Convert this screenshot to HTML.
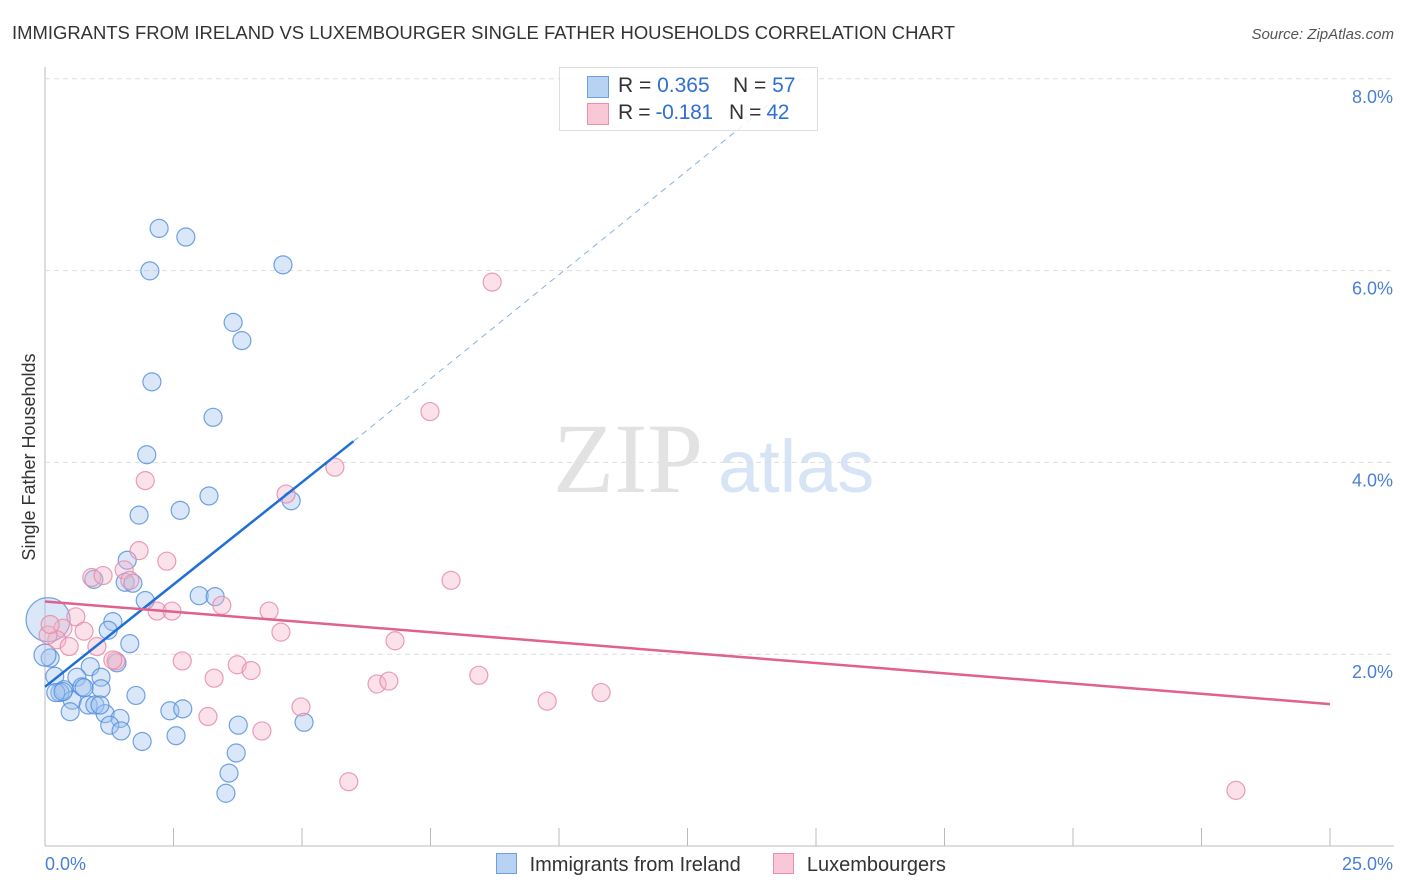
<!DOCTYPE html>
<html><head><meta charset="utf-8"><style>
body{margin:0;background:#fff;font-family:"Liberation Sans",sans-serif;}
#wrap{position:relative;width:1406px;height:892px;overflow:hidden;}
</style></head><body>
<div id="wrap">
<svg id="svg" width="1406" height="892" xmlns="http://www.w3.org/2000/svg">
<text x="12" y="39" font-size="18" fill="#333" textLength="943" lengthAdjust="spacingAndGlyphs">IMMIGRANTS FROM IRELAND VS LUXEMBOURGER SINGLE FATHER HOUSEHOLDS CORRELATION CHART</text>
<text x="1394" y="39" font-size="15" fill="#555" font-style="italic" text-anchor="end">Source: ZipAtlas.com</text>
<text x="35" y="457" font-size="18" fill="#333" text-anchor="middle" transform="rotate(-90 35 457)">Single Father Households</text>
<text x="553" y="492" font-size="100" fill="#e2e2e2" font-family="Liberation Serif,serif">ZIP</text>
<text x="718" y="492" font-size="74" fill="#d6e4f6">atlas</text>
<g id="grid"></g><g id="marks"></g>
</svg>
</div>
<script>
const xTicks=[0,2.5,5,7.5,10,12.5,15,17.5,20,22.5,25];
const yTicks=[2,4,6,8];
const yTickLabels=["2.0%","4.0%","6.0%","8.0%"];
const blueX=[2.22,2.74,2.04,4.63,3.66,3.83,2.08,3.27,1.98,3.19,2.63,1.83,4.79,1.6,1.56,1.71,0.95,1.95,3.0,3.31,1.32,1.23,1.65,0.1,0.19,0.88,1.09,0.62,0.72,0.37,0.29,1.09,0.53,0.84,0.97,0.49,1.17,1.46,1.26,1.48,1.77,2.43,2.68,2.55,1.89,3.76,5.04,3.72,3.58,3.52,0.06,0.0,0.21,1.4,0.76,0.35,1.07];
const blueY=[6.44,6.35,5.997,6.06,5.46,5.27,4.84,4.47,4.08,3.65,3.5,3.45,3.6,2.98,2.75,2.74,2.78,2.56,2.61,2.6,2.34,2.25,2.11,1.96,1.77,1.87,1.76,1.76,1.66,1.63,1.6,1.64,1.52,1.47,1.47,1.4,1.38,1.33,1.26,1.2,1.57,1.41,1.43,1.15,1.09,1.26,1.29,0.97,0.76,0.55,2.36,1.99,1.6,1.91,1.65,1.61,1.47];
const blueR=[9,9,9,9,9,9,9,9,9,9,9,9,9,9,9,9,9,9,9,9,9,9,9,9,9,9,9,9,9,9,9,9,9,9,9,9,9,9,9,9,9,9,9,9,9,9,9,9,9,9,22,11,9,9,9,9,9];
const pinkX=[8.7,7.49,5.64,1.95,4.69,1.83,2.37,1.54,0.91,1.13,1.65,7.9,3.44,4.36,2.18,2.47,0.6,0.76,4.59,0.35,6.81,0.23,0.47,1.01,2.67,3.74,1.38,1.32,4.01,8.44,3.29,6.46,6.69,10.82,9.77,4.98,3.17,4.22,5.91,23.17,0.06,0.1];
const pinkY=[5.88,4.53,3.95,3.81,3.67,3.08,2.97,2.88,2.8,2.82,2.77,2.77,2.51,2.45,2.45,2.45,2.39,2.24,2.23,2.27,2.14,2.15,2.08,2.08,1.93,1.89,1.93,1.94,1.83,1.78,1.75,1.69,1.72,1.6,1.51,1.45,1.35,1.2,0.67,0.58,2.2,2.31];
const blueTrend=[[0,1.66],[6.0,4.22]];
const blueDash=[[6.0,4.22],[14.7,8.0]];
const pinkTrend=[[0,2.55],[25,1.48]];
const X=v=>45+v*51.4, Y=v=>846-v*95.9;
const NS="http://www.w3.org/2000/svg";
const svg=document.getElementById('svg'),grid=document.getElementById('grid'),marks=document.getElementById('marks');
function mk(tag,attrs,parent){const e=document.createElementNS(NS,tag);for(const k in attrs)e.setAttribute(k,attrs[k]);parent.appendChild(e);return e;}
let e;
e=mk('line',{x1:45,y1:67,x2:45,y2:846,stroke:'#bbb'},grid);


e=mk('line',{x1:45,y1:846,x2:1394,y2:846,stroke:'#bbb'},grid);


yTicks.forEach((t,i)=>{
 e=mk('line',{x1:45,y1:Y(t),x2:1394,y2:Y(t),stroke:'#ddd','stroke-dasharray':'5,4'},grid);
 
 
 e=mk('text',{x:1393,y:Y(t)+24,'font-size':18,fill:'#4a7fd6','text-anchor':'end'},grid);e.textContent=yTickLabels[i];
 
 
});
xTicks.forEach(t=>{
 e=mk('line',{x1:X(t),y1:828,x2:X(t),y2:846,stroke:'#bbb'},grid);
 
 
});
e=mk('text',{x:45,y:870,'font-size':18,fill:'#4a7fd6'},grid);e.textContent='0.0%';


e=mk('text',{x:1393,y:870,'font-size':18,fill:'#4a7fd6','text-anchor':'end'},grid);e.textContent='25.0%';


blueX.forEach((v,i)=>{
 e=mk('circle',{cx:X(v),cy:Y(blueY[i]),r:blueR[i],fill:'rgba(160,195,238,0.4)',stroke:'rgba(80,140,220,0.8)','stroke-width':1.2},marks);
 
 
});
pinkX.forEach((v,i)=>{
 e=mk('circle',{cx:X(v),cy:Y(pinkY[i]),r:9,fill:'rgba(245,180,200,0.4)',stroke:'rgba(230,140,170,0.85)','stroke-width':1.2},marks);
 
 
});
e=mk('line',{x1:X(blueDash[0][0]),y1:Y(blueDash[0][1]),x2:X(blueDash[1][0]),y2:Y(blueDash[1][1]),stroke:'#8ab0e0','stroke-dasharray':'6,5','stroke-width':1},marks);


e=mk('line',{x1:X(blueTrend[0][0]),y1:Y(blueTrend[0][1]),x2:X(blueTrend[1][0]),y2:Y(blueTrend[1][1]),stroke:'#1f6fd6','stroke-width':2.5},marks);


e=mk('line',{x1:X(pinkTrend[0][0]),y1:Y(pinkTrend[0][1]),x2:X(pinkTrend[1][0]),y2:Y(pinkTrend[1][1]),stroke:'#e0608e','stroke-width':2.5},marks);


</script>
<div style="position:absolute;left:559px;top:67px;width:257px;height:62px;border:1px solid #ddd;background:rgba(255,255,255,0.85);font-size:21px;">
 <div style="position:absolute;left:27px;top:8px;width:20px;height:20px;background:#b8d2f4;border:1px solid #6f9fe0"></div>
 <div style="position:absolute;left:58px;top:6px;color:#333;white-space:nowrap">R = <span style="color:#2f6fd0">0.365</span>&nbsp;&nbsp;&nbsp; N = <span style="color:#2f6fd0">57</span></div>
 <div style="position:absolute;left:27px;top:35px;width:20px;height:20px;background:#f8c8d6;border:1px solid #e890ad"></div>
 <div style="position:absolute;left:58px;top:33px;color:#333;white-space:nowrap;letter-spacing:-0.4px">R = <span style="color:#2f6fd0">-0.181</span>&nbsp;&nbsp; N = <span style="color:#2f6fd0">42</span></div>
</div>
<div style="position:absolute;left:496px;top:853px;font-size:20px;color:#333;white-space:nowrap">
 <span style="display:inline-block;width:19px;height:19px;background:#b8d2f4;border:1px solid #6f9fe0;vertical-align:-3px"></span>
 <span style="margin-left:7px">Immigrants from Ireland</span>
 <span style="display:inline-block;width:19px;height:19px;background:#f8c8d6;border:1px solid #e890ad;vertical-align:-3px;margin-left:27px"></span>
 <span style="margin-left:7px">Luxembourgers</span>
</div>
</body></html>
